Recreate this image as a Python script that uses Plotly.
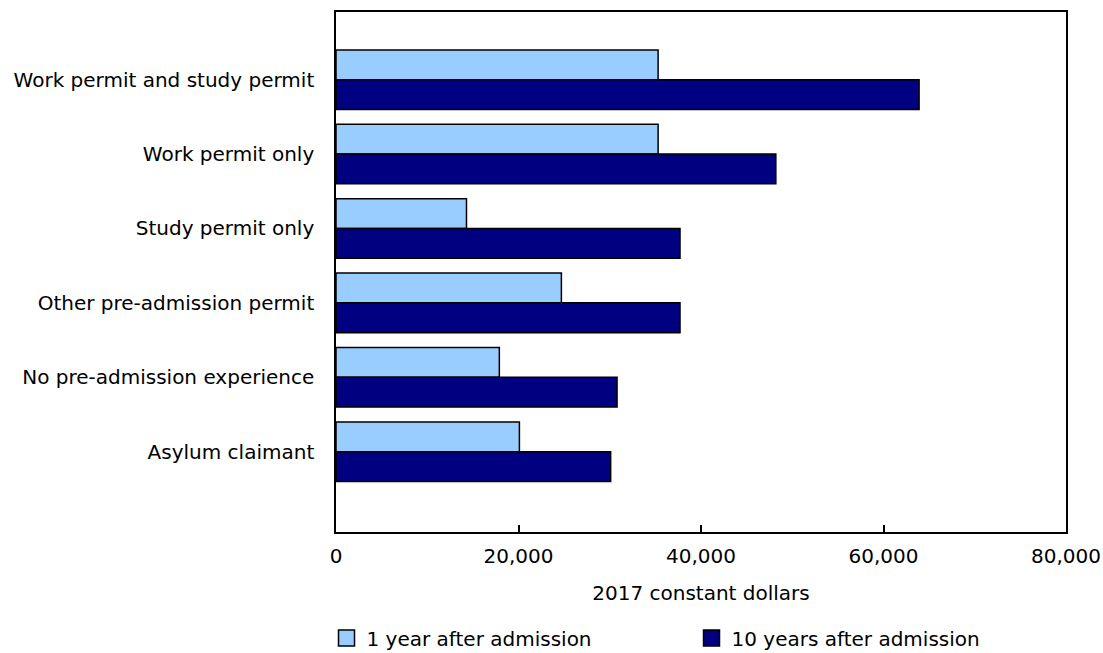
import plotly.graph_objects as go

categories = [
    "Work permit and study permit",
    "Work permit only",
    "Study permit only",
    "Other pre-admission permit",
    "No pre-admission experience",
    "Asylum claimant",
]
one_year = [35300, 35300, 14300, 24700, 17900, 20100]
ten_years = [63900, 48200, 37700, 37700, 30800, 30100]
x_ticks = [0, 20000, 40000, 60000, 80000]
x_tick_labels = ["0", "20,000", "40,000", "60,000", "80,000"]
series_names = ["1 year after admission", "10 years after admission"]
series_colors = ["#99CCFF", "#000080"]

FONT = "DejaVu Sans, Verdana, sans-serif"
FS = 20

fig = go.Figure()
for name, vals, col in zip(series_names, [one_year, ten_years], series_colors):
    fig.add_trace(go.Bar(
        y=categories, x=vals, orientation="h", name=name, showlegend=False,
        marker=dict(color=col, line=dict(color="#000000", width=1.5)),
    ))
# legend entries with larger square swatches
for name, col in zip(series_names, series_colors):
    fig.add_trace(go.Scatter(
        x=[None], y=[None], mode="markers", name=name, showlegend=True,
        marker=dict(symbol="square", size=16, color=col,
                    line=dict(color="#000000", width=1.5)),
    ))

fig.update_layout(
    width=1103, height=653,
    margin=dict(l=336, r=37, t=12, b=121, autoexpand=False),
    paper_bgcolor="white", plot_bgcolor="white",
    font=dict(family=FONT, size=FS, color="#000000"),
    barmode="group", bargap=0.2, bargroupgap=0,
    showlegend=True,
    legend=dict(
        orientation="h", x=-0.013, xanchor="left", y=-0.204, yanchor="middle",
        font=dict(family=FONT, size=FS), entrywidth=320, itemwidth=30,
        traceorder="normal",
    ),
)
fig.update_xaxes(
    range=[0, 80000], tickvals=x_ticks, ticktext=x_tick_labels,
    ticks="inside", ticklen=7, tickcolor="#000000", tickwidth=1.5,
    showline=True, linecolor="#000000", linewidth=1.5, mirror=True,
    showgrid=False, zeroline=False, ticklabelstandoff=5,
    title=dict(text="2017 constant dollars", standoff=19,
               font=dict(family=FONT, size=FS)),
    tickfont=dict(family=FONT, size=FS),
)
fig.update_yaxes(
    type="category", categoryorder="array", categoryarray=categories,
    range=[5 + 1.08, -0.91],
    showline=True, linecolor="#000000", linewidth=1.5, mirror=True,
    showgrid=False, zeroline=False, ticks="", ticklabelstandoff=16,
    tickfont=dict(family=FONT, size=FS),
)

fig.write_html("out.html")
